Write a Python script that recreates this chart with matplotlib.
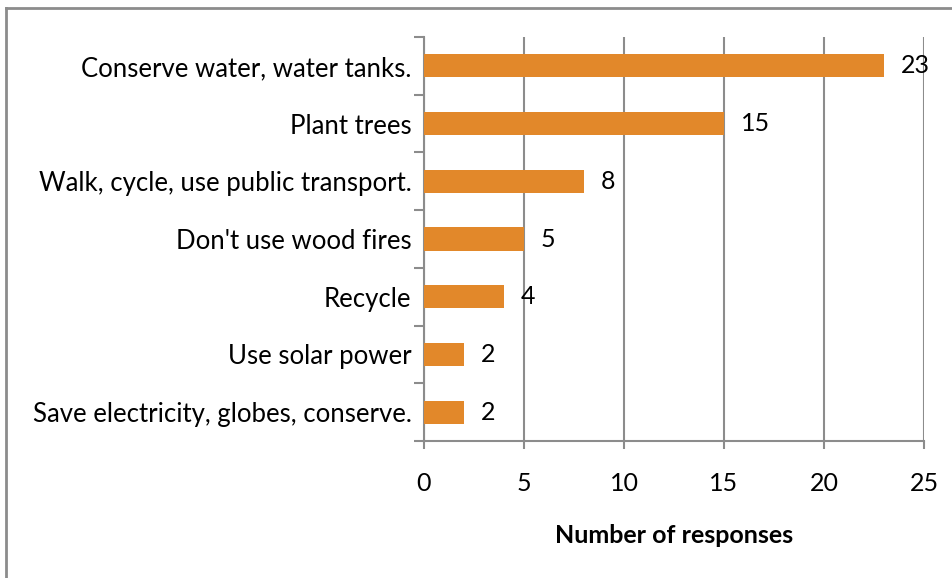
import matplotlib.pyplot as plt
from matplotlib.lines import Line2D

# Survey answers, listed bottom to top
actions = ["Save electricity, globes, conserve.", "Use solar power", "Recycle",
           "Don't use wood fires", "Walk, cycle, use public transport.",
           "Plant trees", "Conserve water, water tanks."]
responses = [2, 2, 4, 5, 8, 15, 23]
x_ticks = [0, 5, 10, 15, 20, 25]

plt.rcParams['font.family'] = ['Lato', 'DejaVu Sans']
fs = 18

fig = plt.figure(figsize=(9.53, 5.78), dpi=100)
ax = fig.add_axes([424 / 953, 1 - 441 / 578, 500 / 953, 404 / 578])

grey = '#8c8c8c'
bars = ax.barh(actions, responses, height=0.4, color='#e2882a', zorder=3)
ax.bar_label(bars, labels=[str(v) for v in responses], padding=12, fontsize=fs)

ax.set_xlim(0, 25)
ax.set_ylim(-0.5, len(actions) - 0.5)
ax.set_xticks(x_ticks)
ax.set_yticks([i - 0.5 for i in range(len(actions) + 1)], minor=False)
ax.set_yticklabels([])
ax.set_yticks(range(len(actions)), minor=True)
ax.set_yticklabels(actions, minor=True)
ax.tick_params(axis='y', which='minor', length=0, pad=9, labelsize=fs + 0.5)
ax.tick_params(axis='y', which='major', length=7, width=1.5, color=grey)
ax.tick_params(axis='x', length=6, width=1.5, color=grey, pad=16, labelsize=fs)

ax.grid(axis='x', color=grey, linewidth=1.5, zorder=0)
for side in ['top', 'right']:
    ax.spines[side].set_visible(False)
for side in ['left', 'bottom']:
    ax.spines[side].set_color(grey)
    ax.spines[side].set_linewidth(1.5)

ax.set_xlabel('Number of responses', fontsize=fs, fontweight='bold', labelpad=21)

# Frame around the chart area (top and left edges)
fig.add_artist(Line2D([6 / 953, 1], [1 - 8 / 578, 1 - 8 / 578], color=grey, linewidth=2))
fig.add_artist(Line2D([6 / 953, 6 / 953], [0, 1 - 8 / 578], color=grey, linewidth=2))

fig.savefig('out.png', dpi=100, facecolor='white')
